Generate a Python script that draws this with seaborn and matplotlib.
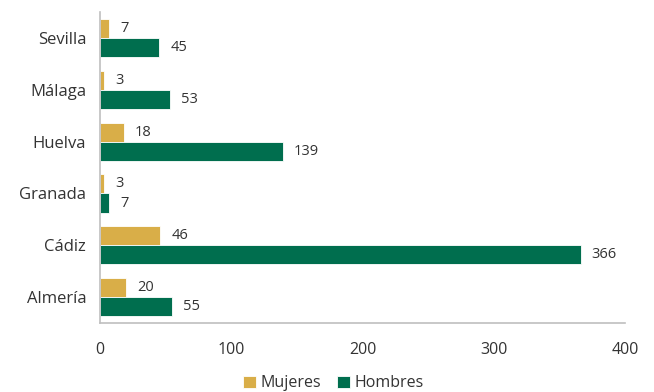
import matplotlib
matplotlib.use("Agg")
import matplotlib.pyplot as plt
import seaborn as sns
import pandas as pd

provincias = ["Sevilla", "Málaga", "Huelva", "Granada", "Cádiz", "Almería"]
mujeres = [7, 3, 18, 3, 46, 20]
hombres = [45, 53, 139, 7, 366, 55]
series = ["Mujeres", "Hombres"]
colores = ["#D9AE48", "#006E4E"]

df = pd.DataFrame({
    "Provincia": provincias * 2,
    "Valor": mujeres + hombres,
    "Serie": [series[0]] * len(provincias) + [series[1]] * len(provincias),
})

sns.set_theme(style="white")
plt.rcParams["font.family"] = ["Open Sans", "DejaVu Sans"]

fig = plt.figure(figsize=(6.54, 3.92), dpi=100)
ax = fig.add_axes([0.153, 0.176, 0.803, 0.793])

sns.barplot(data=df, y="Provincia", x="Valor", hue="Serie", order=provincias,
            hue_order=series, palette=colores, saturation=1, orient="h", width=0.74,
            edgecolor="white", linewidth=0.6, ax=ax, legend=True)

for cont in ax.containers:
    ax.bar_label(cont, padding=8, fontsize=10.5, color="#333333")

ax.set_xlim(0, 400)
ax.set_ylim(5.5, -0.5)
ax.set_xticks([0, 100, 200, 300, 400])
ax.set_xlabel("")
ax.set_ylabel("")
ax.tick_params(axis="x", labelsize=11.5, colors="#333333", length=0, pad=14)
ax.tick_params(axis="y", labelsize=12, colors="#333333", length=0, pad=10)
for s in ["top", "right"]:
    ax.spines[s].set_visible(False)
for s in ["left", "bottom"]:
    ax.spines[s].set_color("#BFBFBF")
    ax.spines[s].set_linewidth(1.2)

handles, labels = ax.get_legend_handles_labels()
ax.get_legend().remove()
leg = fig.legend(handles, labels, loc="lower center", bbox_to_anchor=(0.51, -0.035), ncol=2,
                 frameon=False, fontsize=11.5, handlelength=0.8, handleheight=0.8,
                 handletextpad=0.3, columnspacing=1.0)
for t in leg.get_texts():
    t.set_color("#333333")

fig.savefig("out.png", dpi=100)
